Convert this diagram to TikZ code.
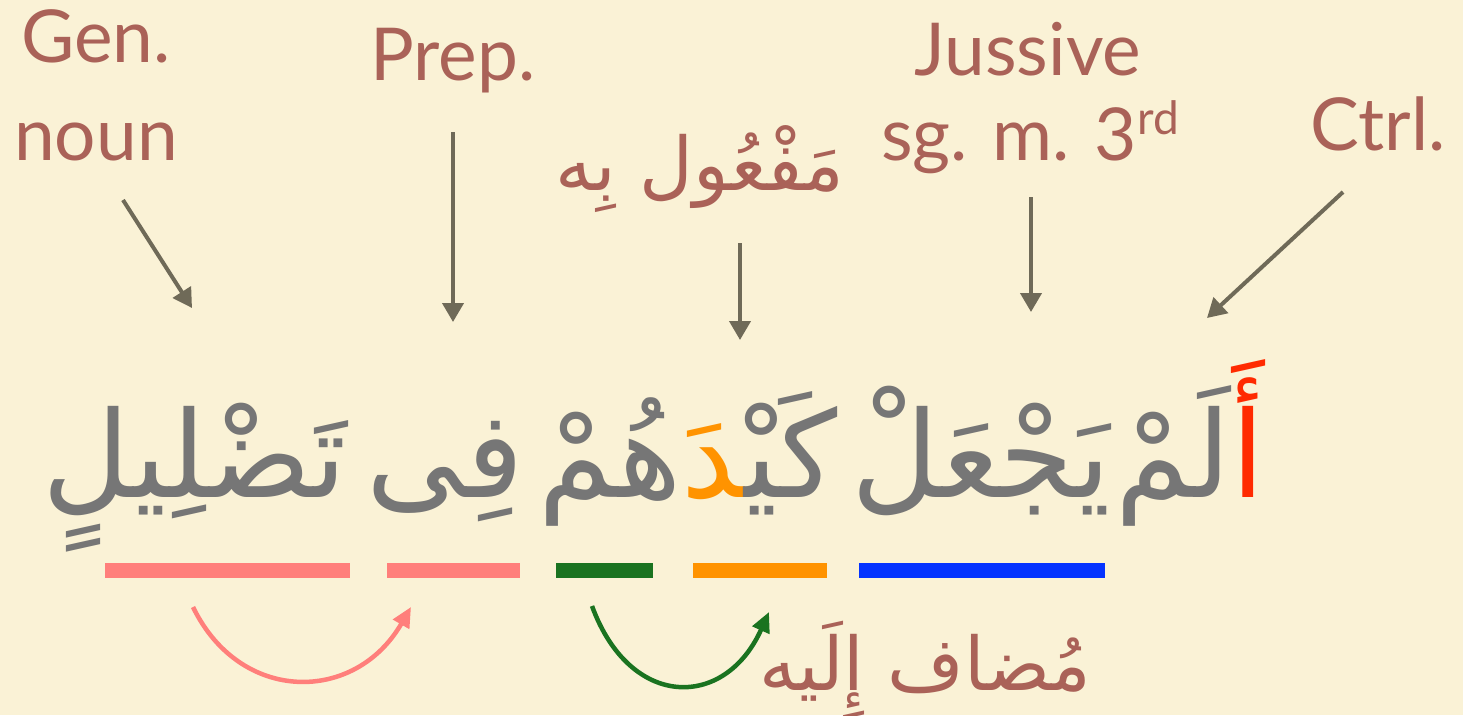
\documentclass[tikz,border=0pt]{standalone}
\usepackage{fontspec}
\setmainfont{Lato}
\newfontfamily\arabicfont[Script=Arabic]{DejaVu Sans}
\TeXXeTstate=1
\usetikzlibrary{arrows.meta}
\definecolor{bg}{HTML}{FAF2D6}
\definecolor{lab}{HTML}{AA6258}
\definecolor{arr}{HTML}{6F6A58}
\definecolor{txt}{HTML}{767676}
\definecolor{alifred}{HTML}{FF2A00}
\definecolor{dalorange}{HTML}{FF9300}
\definecolor{pinkbar}{HTML}{FF7F7B}
\definecolor{greenbar}{HTML}{1A7320}
\definecolor{bluebar}{HTML}{0433FF}
\begin{document}
\begin{tikzpicture}[x=1pt,y=-1pt,
 lbl/.style={text=lab,font=\fontsize{73}{80}\selectfont,inner sep=0pt,anchor=base},
 arlbl/.style={text=lab,font=\arabicfont\fontsize{74}{80}\selectfont,inner sep=0pt,anchor=base},
 word/.style={text=txt,font=\arabicfont\fontsize{120}{130}\selectfont,inner sep=0pt,anchor=base},
 pointer/.style={draw=arr,line width=4pt,-{Triangle[length=19pt,width=21pt]}},
 bar/.style={line width=15pt},
 link/.style={line width=4.5pt,-{Triangle[length=20pt,width=18pt]}}]
\fill[bg] (0,0) rectangle (1463,715);
\useasboundingbox (0,0) rectangle (1463,715);
% labels
\node[lbl] (gen) at (96,62) {Gen.};
\node[lbl] (noun) at (96,160) {noun};
\node[lbl] (prep) at (453,80) {Prep.};
\node[lbl] (jus) at (1028,75) {Jussive};
\node[lbl] (sg) at (1030,160) {sg. m. 3{\fontsize{46}{46}\selectfont\raisebox{0.55em}{rd}}};
\node[lbl] (ctrl) at (1378,150) {Ctrl.};
\node[arlbl] (maf) at (700,190) {\beginR مَفْعُول بِه\endR};
\node[arlbl] (mudaf) at (925,690) {\beginR مُضاف إِلَيه\endR};
% words (coloured pieces written in visual order, left to right)
\node[word] (w1) at (1190,497) {لَمْ{\color{alifred}أَ}};
\node[word] (w2) at (981,497) {يَجْعَلْ};
\node[word] (w3) at (688,497) {هُمْ{\color{dalorange}^^^^200dدَ}كَيْ^^^^200d};
\node[word] (w4) at (445,497) {فِى};
\node[word] (w5) at (195,497) {تَضْلِيلٍ};
% bars
\draw[bar,pinkbar] (105,570) -- (350,570);
\draw[bar,pinkbar] (387,570) -- (520,570);
\draw[bar,greenbar] (556,570) -- (653,570);
\draw[bar,dalorange] (693,570) -- (827,570);
\draw[bar,bluebar] (859,570) -- (1105,570);
% pointer ends
\coordinate (g1) at (123,200); \coordinate (g2) at (192,308);
\coordinate (p1) at (453,132); \coordinate (p2) at (453,322);
\coordinate (m1) at (740,243); \coordinate (m2) at (740,340);
\coordinate (j1) at (1031,197); \coordinate (j2) at (1031,312);
\coordinate (c1) at (1343,192); \coordinate (c2) at (1207,318);
\draw[pointer] (g1) -- (g2);
\draw[pointer] (p1) -- (p2);
\draw[pointer] (m1) -- (m2);
\draw[pointer] (j1) -- (j2);
\draw[pointer] (c1) -- (c2);
% curved links
\coordinate (a1) at (193,607); \coordinate (a2) at (411,607);
\coordinate (b1) at (592,606); \coordinate (b2) at (769,612);
\draw[link,pinkbar] (a1) .. controls (240,704) and (355,704) .. (a2);
\draw[link,greenbar] (b1) .. controls (630,710) and (725,710) .. (b2);
\end{tikzpicture}
\end{document}
